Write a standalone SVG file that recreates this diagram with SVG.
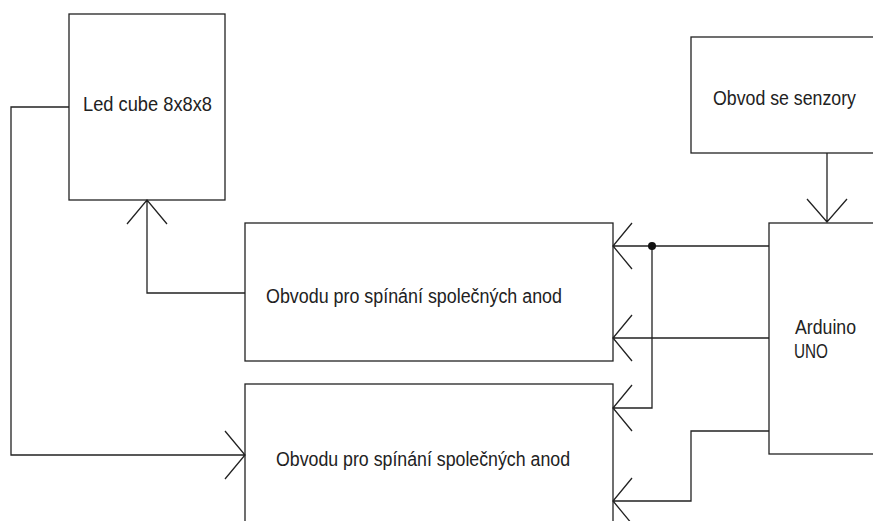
<svg xmlns="http://www.w3.org/2000/svg" width="873" height="521" viewBox="0 0 873 521">
<style>
.box{fill:#fff;stroke:#222;stroke-width:1.3}
.w{fill:none;stroke:#222;stroke-width:1.3}
.t{font-family:"Liberation Sans",Arial,sans-serif;font-size:20px;fill:#222}
</style>
<rect width="873" height="521" fill="#fff"/>
<g id="led-cube"><rect class="box" x="69" y="14" width="156" height="186"/><text class="t" x="83" y="111" textLength="129" lengthAdjust="spacingAndGlyphs">Led cube 8x8x8</text></g>
<g id="senzory"><rect class="box" x="691" y="37" width="200" height="116"/><text class="t" x="713" y="105" textLength="143" lengthAdjust="spacingAndGlyphs">Obvod se senzory</text></g>
<g id="anody1"><rect class="box" x="245" y="223" width="368" height="138"/><text class="t" x="266" y="303" textLength="296" lengthAdjust="spacingAndGlyphs">Obvodu pro spínání společných anod</text></g>
<g id="anody2"><rect class="box" x="245" y="384" width="368" height="160"/><text class="t" x="276" y="466" textLength="294" lengthAdjust="spacingAndGlyphs">Obvodu pro spínání společných anod</text></g>
<g id="arduino"><rect class="box" x="769" y="223" width="120" height="231"/><text class="t" x="795" y="334" textLength="61" lengthAdjust="spacingAndGlyphs">Arduino</text><text class="t" x="794" y="358" textLength="34" lengthAdjust="spacingAndGlyphs">UNO</text></g>
<g id="connectors">
<path class="w" d="M69 107H11V455H245M225 431L245 455L225 479"/>
<path class="w" d="M245 293H147V200M127 224L147 200L167 224"/>
<path class="w" d="M827 153V222M807 199L827 222L847 199"/>
<path class="w" d="M769 246H613M632 223L613 246L632 269"/>
<path class="w" d="M652 246V408H613M632 385L613 408L632 431"/>
<path class="w" d="M769 338H613M632 315L613 338L632 361"/>
<path class="w" d="M769 431H691V501H613M632 478L613 501L632 524"/>
<circle cx="652" cy="246" r="4" fill="#111"/>
</g>
</svg>
